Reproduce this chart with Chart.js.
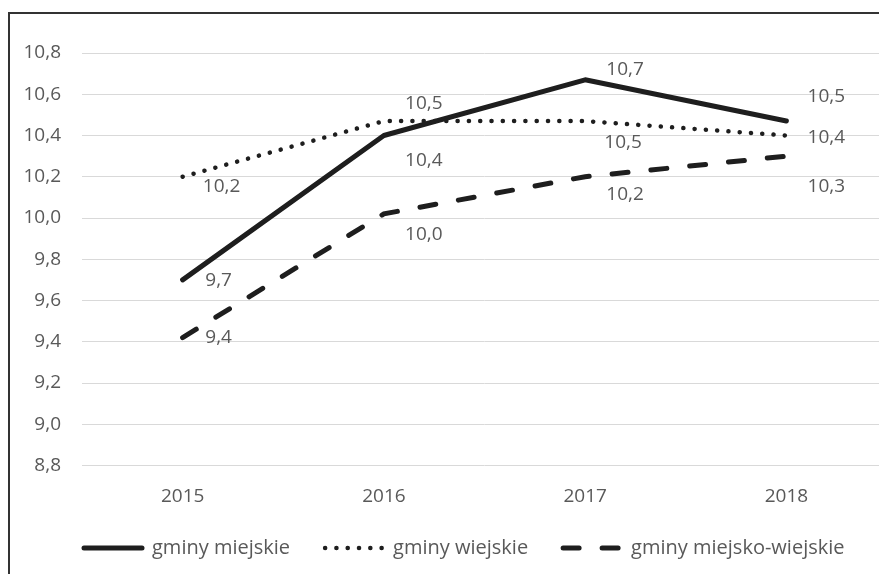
<!DOCTYPE html>
<html>
<head>
<meta charset="utf-8">
<script src="https://cdn.jsdelivr.net/npm/chart.js@4/dist/chart.umd.min.js"></script>
<style>
  html, body { margin: 0; padding: 0; background: #fff; overflow: hidden; }
  #wrap { position: relative; width: 879px; height: 574px; overflow: hidden; background: #fff; }
  #frame { position: absolute; left: 8px; top: 12px; width: 2000px; height: 2000px;
           border-left: 2px solid #333; border-top: 2px solid #333; box-sizing: border-box; }
  canvas { position: absolute; left: 0; top: 0; }
</style>
</head>
<body>
<div id="wrap">
  <div id="frame"></div>
  <canvas id="c" width="900" height="574"></canvas>
</div>
<script>
const categories = ['2015', '2016', '2017', '2018'];
const seriesNames = ['gminy miejskie', 'gminy wiejskie', 'gminy miejsko-wiejskie'];
const miejskie = [9.7, 10.4, 10.67, 10.47];
const wiejskie = [10.2, 10.47, 10.47, 10.4];
const miejskoWiejskie = [9.42, 10.02, 10.2, 10.3];
const yMin = 8.8, yMax = 10.8, yStep = 0.2;

const FONT = "'Open Sans', 'Noto Sans', sans-serif";
const TXT = '#595959';
const LINE = '#1e1e1e';

// label offsets (pixels) relative to each point, per dataset
const labelOffsets = [
  [[36, 1], [40, 25], [40, -10], [40, -24]],
  [[39, 10], [40, -17], [38, 22], [40, 2]],
  [[36, 0], [40, 21], [40, 18], [40, 30]]
];

const valueLabels = {
  id: 'valueLabels',
  afterDatasetsDraw(chart) {
    const ctx = chart.ctx;
    ctx.save();
    ctx.font = '19px ' + FONT;
    ctx.fillStyle = TXT;
    ctx.textAlign = 'center';
    ctx.textBaseline = 'middle';
    chart.data.datasets.forEach((ds, di) => {
      const meta = chart.getDatasetMeta(di);
      meta.data.forEach((pt, i) => {
        const off = labelOffsets[di][i];
        const txt = ds.data[i].toFixed(1).replace('.', ',');
        ctx.fillText(txt, pt.x + off[0], pt.y + off[1]);
      });
    });
    ctx.restore();
  }
};

// shift legend start so it begins under the plot like the reference
const legendShift = {
  id: 'legendShift',
  afterLayout(chart) {
    if (chart.legend) { chart.legend.left = 49; chart.legend.right = 900; }
  }
};

new Chart(document.getElementById('c'), {
  type: 'line',
  data: {
    labels: categories,
    datasets: [
      { label: seriesNames[0], data: miejskie, borderColor: LINE, backgroundColor: LINE,
        borderWidth: 5, borderCapStyle: 'round', borderJoinStyle: 'round', pointRadius: 0, tension: 0 },
      { label: seriesNames[1], data: wiejskie, borderColor: LINE, backgroundColor: LINE,
        borderWidth: 4.5, borderDash: [0.1, 11.2], borderCapStyle: 'round', pointRadius: 0, tension: 0 },
      { label: seriesNames[2], data: miejskoWiejskie, borderColor: LINE, backgroundColor: LINE,
        borderWidth: 5, borderDash: [16, 23], borderCapStyle: 'round', pointRadius: 0, tension: 0 }
    ]
  },
  options: {
    responsive: false,
    animation: false,
    devicePixelRatio: 1,
    layout: { padding: { left: 10, right: 13, top: 53, bottom: 6 } },
    scales: {
      x: {
        offset: true,
        grid: { display: false, drawTicks: false },
        border: { display: false },
        ticks: { color: TXT, font: { family: FONT, size: 19 }, padding: 20, maxRotation: 0 },
        afterFit(s) { s.height = 37.5; }
      },
      y: {
        min: yMin, max: yMax,
        grid: { color: '#d9d9d9', lineWidth: 1, drawTicks: false },
        border: { display: false },
        ticks: { stepSize: yStep, color: TXT, font: { family: FONT, size: 19 }, padding: 21,
                 callback: v => v.toFixed(1).replace('.', ',') },
        afterFit(s) { s.width = 72; }
      }
    },
    plugins: {
      legend: {
        position: 'bottom',
        align: 'start',
        labels: {
          usePointStyle: true, pointStyle: 'line', pointStyleWidth: 58, boxHeight: 20,
          color: TXT, font: { family: FONT, size: 20 }, padding: 35,
          generateLabels(chart) {
            return chart.data.datasets.map((ds, i) => ({
              text: ds.label,
              fillStyle: ds.borderColor,
              strokeStyle: ds.borderColor,
              lineWidth: ds.borderWidth,
              lineDash: ds.borderDash || [],
              lineCap: 'round',
              pointStyle: 'line',
              fontColor: TXT,
              hidden: false,
              datasetIndex: i
            }));
          }
        }
      },
      tooltip: { enabled: false }
    }
  },
  plugins: [valueLabels, legendShift]
});
</script>
</body>
</html>
